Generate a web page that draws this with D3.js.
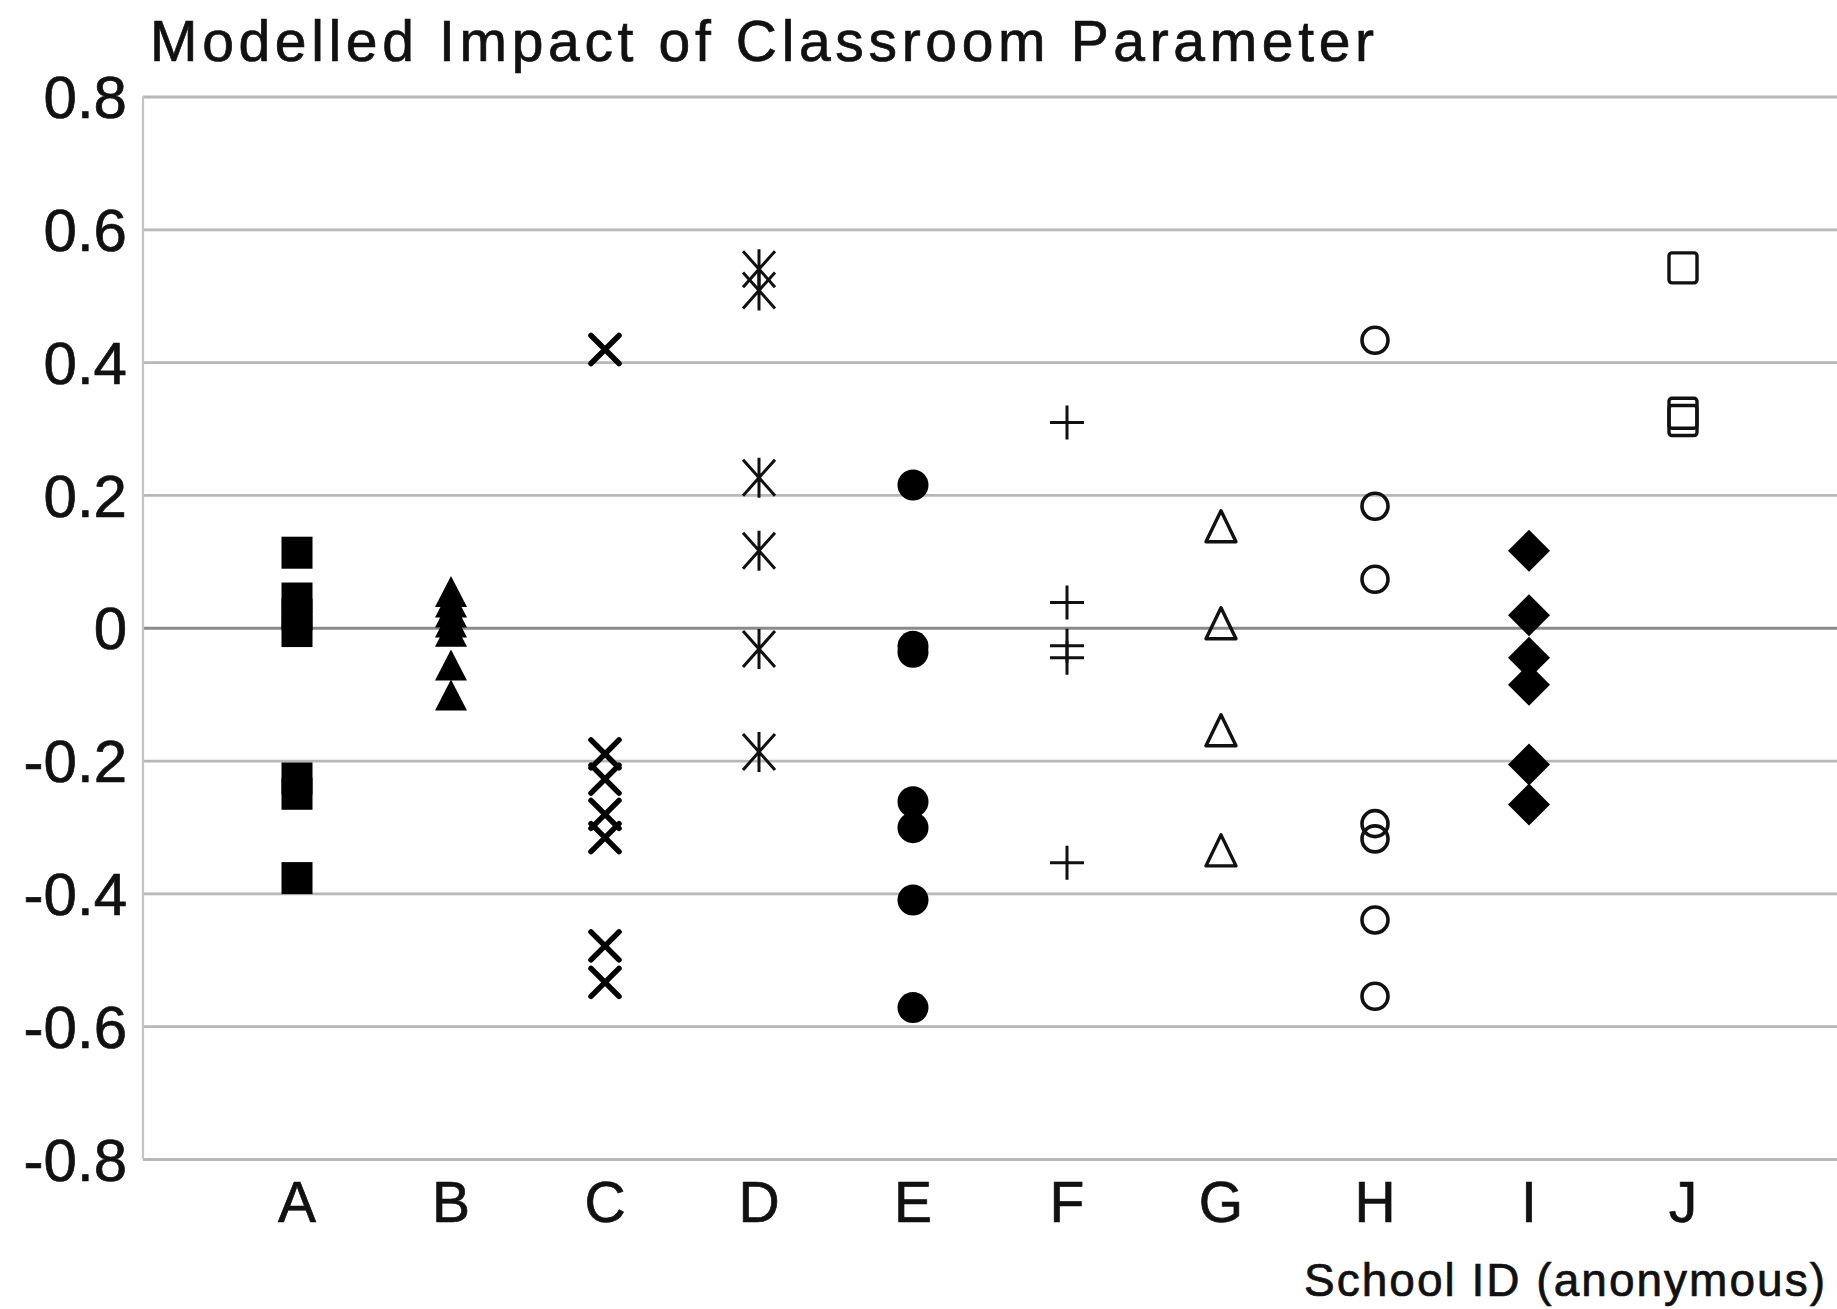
<!DOCTYPE html>
<html>
<head>
<meta charset="utf-8">
<script src="https://cdn.jsdelivr.net/npm/d3@7"></script>
<style>
  html, body { margin: 0; padding: 0; background: #fff; }
  svg { display: block; }
  text { font-family: "Liberation Sans", Arial, sans-serif; fill: #111; stroke: #111; stroke-width: 0.7px; }
</style>
</head>
<body>
<svg id="chart" width="1837" height="1309"></svg>
<script>
// ---------- data ----------
const categories = ["A", "B", "C", "D", "E", "F", "G", "H", "I", "J"];
const valuesA = [0.113, 0.044, 0.02, -0.005, -0.227, -0.25, -0.377];
const valuesB = [0.054, 0.038, 0.023, 0.008, -0.006, -0.057, -0.102];
const valuesC = [0.419, -0.19, -0.228, -0.281, -0.316, -0.479, -0.534];
const valuesD = [0.54, 0.508, 0.226, 0.116, -0.032, -0.187];
const valuesE = [0.215, -0.028, -0.037, -0.262, -0.301, -0.41, -0.572];
const valuesF = [0.309, 0.038, -0.027, -0.045, -0.354];
const valuesG = [0.152, 0.006, -0.155, -0.336];
const valuesH = [0.433, 0.183, 0.073, -0.295, -0.318, -0.44, -0.555];
const valuesI = [0.116, 0.019, -0.045, -0.086, -0.206, -0.266];
const valuesJ = [0.542, 0.323, 0.312];
const yTickValues = [-0.8, -0.6, -0.4, -0.2, 0, 0.2, 0.4, 0.6, 0.8];
const yTickLabels = ["-0.8", "-0.6", "-0.4", "-0.2", "0", "0.2", "0.4", "0.6", "0.8"];
const titleText = "Modelled Impact of Classroom Parameter";
const xAxisTitle = "School ID (anonymous)";

const seriesValues = [valuesA, valuesB, valuesC, valuesD, valuesE, valuesF, valuesG, valuesH, valuesI, valuesJ];
const markerKinds = ["squareFilled", "triangleFilled", "cross", "asterisk", "circleFilled",
                     "plus", "triangleOpen", "circleOpen", "diamondFilled", "squareOpen"];

// ---------- layout ----------
const W = 1837, H = 1309;
const plotLeft = 143, plotRight = 1837, plotTop = 96.5, plotBottom = 1159;
const step = (plotRight - plotLeft) / 11;

const svg = d3.select("#chart");

const x = d3.scalePoint().domain(categories).range([plotLeft + step, plotRight - step]);
const y = d3.scaleLinear().domain([-0.8, 0.8]).range([plotBottom, plotTop]);

// gridlines
const grid = d3.axisLeft(y).tickValues(yTickValues).tickSize(-(plotRight - plotLeft)).tickFormat("");
const gg = svg.append("g").attr("transform", `translate(${plotLeft},0)`).call(grid);
gg.select(".domain").remove();
gg.selectAll(".tick line")
  .attr("stroke", d => d === 0 ? "#8a8a8a" : "#b8b8b8")
  .attr("stroke-width", d => d === 0 ? 3.2 : 2.8);

// left axis line
svg.append("line")
  .attr("x1", plotLeft).attr("x2", plotLeft)
  .attr("y1", y(0.8)).attr("y2", y(-0.8))
  .attr("stroke", "#c4c4c4").attr("stroke-width", 2.2);

// y tick labels
svg.append("g").selectAll("text").data(yTickValues).join("text")
  .attr("x", 127)
  .attr("y", d => y(d))
  .attr("dy", "0.36em")
  .attr("text-anchor", "end")
  .attr("font-size", 60)
  .text((d, i) => yTickLabels[i]);

// x tick labels
svg.append("g").selectAll("text").data(categories).join("text")
  .attr("x", d => x(d))
  .attr("y", 1222)
  .attr("text-anchor", "middle")
  .attr("font-size", 57)
  .text(d => d);

// title
svg.append("text")
  .attr("x", 150).attr("y", 61)
  .attr("font-size", 57)
  .attr("textLength", 1224).attr("lengthAdjust", "spacing")
  .text(titleText);

// x axis title
svg.append("text")
  .attr("x", 1304).attr("y", 1296)
  .attr("font-size", 46)
  .attr("textLength", 521).attr("lengthAdjust", "spacing")
  .text(xAxisTitle);

// ---------- markers ----------
function drawMarker(g, kind) {
  switch (kind) {
    case "squareFilled":
      g.append("rect").attr("x", -15.5).attr("y", -16).attr("width", 31).attr("height", 32).attr("fill", "#000");
      break;
    case "triangleFilled":
      g.append("path").attr("d", "M0,-16L16,15L-16,15Z").attr("fill", "#000");
      break;
    case "cross":
      g.append("path").attr("d", "M-14,-14L14,14M14,-14L-14,14")
        .attr("stroke", "#000").attr("stroke-width", 5.5).attr("fill", "none").attr("stroke-linecap", "round");
      break;
    case "asterisk":
      g.append("path").attr("d", "M0,-20L0,20M-16,-18L16,18M16,-18L-16,18")
        .attr("stroke", "#111").attr("stroke-width", 3).attr("fill", "none");
      break;
    case "circleFilled":
      g.append("circle").attr("r", 15.5).attr("fill", "#000");
      break;
    case "plus":
      g.append("path").attr("d", "M-17,0L17,0M0,-17L0,17")
        .attr("stroke", "#111").attr("stroke-width", 3).attr("fill", "none");
      break;
    case "triangleOpen":
      g.append("path").attr("d", "M0,-16L15,15L-15,15Z")
        .attr("stroke", "#111").attr("stroke-width", 3.4).attr("fill", "none").attr("stroke-linejoin", "round");
      break;
    case "circleOpen":
      g.append("circle").attr("r", 13)
        .attr("stroke", "#111").attr("stroke-width", 3.6).attr("fill", "none");
      break;
    case "diamondFilled":
      g.append("path").attr("d", "M0,-21L21,0L0,21L-21,0Z").attr("fill", "#000");
      break;
    case "squareOpen":
      g.append("rect").attr("x", -14).attr("y", -15).attr("width", 28).attr("height", 30).attr("rx", 3)
        .attr("stroke", "#111").attr("stroke-width", 3.4).attr("fill", "none");
      break;
  }
}

const points = [];
categories.forEach((c, i) => {
  seriesValues[i].forEach(v => points.push({ cat: c, value: v, kind: markerKinds[i] }));
});

svg.append("g").selectAll("g.pt").data(points).join("g")
  .attr("class", "pt")
  .attr("transform", d => `translate(${x(d.cat)},${y(d.value)})`)
  .each(function (d) { drawMarker(d3.select(this), d.kind); });
</script>
</body>
</html>
